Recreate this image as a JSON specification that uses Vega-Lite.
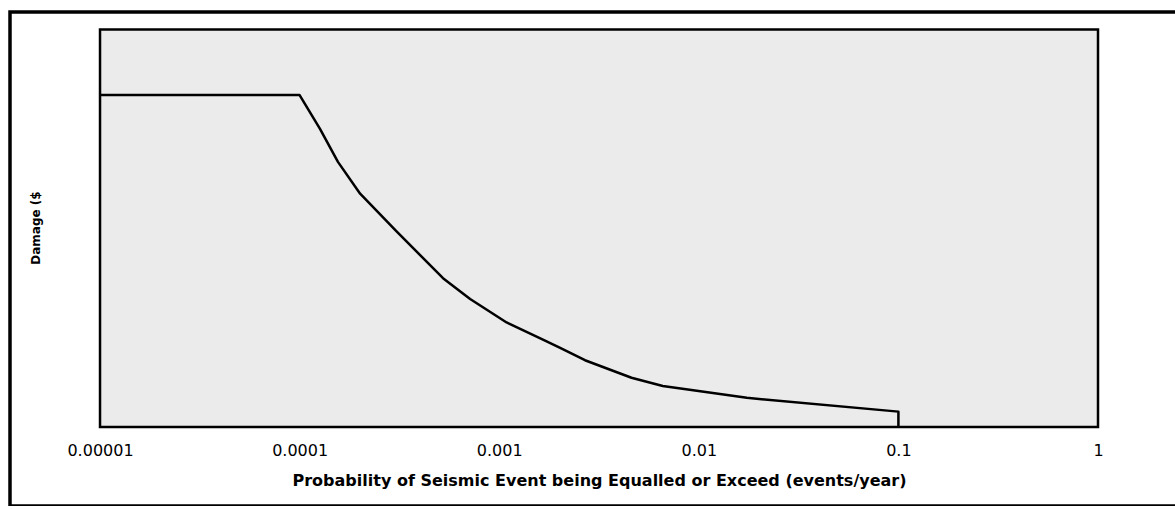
{
  "$schema": "https://vega.github.io/schema/vega-lite/v6.json",
  "autosize": "none",
  "padding": {"left": 10, "top": 12, "right": 0, "bottom": 0},
  "width": 1200,
  "height": 494,
  "background": "white",
  "config": {
    "view": {"stroke": "black", "strokeWidth": 3.5, "fill": "white"},
    "axis": {"grid": false, "domain": false, "ticks": false, "tickSize": 0}
  },
  "datasets": {
    "box": [{"x0": 0.00001, "x1": 1, "y0": 0, "y1": 1}],
    "curve": [
      {"i": 0, "p": 0.00001, "d": 0.835},
      {"i": 1, "p": 0.0001, "d": 0.835},
      {"i": 2, "p": 0.0001265, "d": 0.750},
      {"i": 3, "p": 0.0001556, "d": 0.667},
      {"i": 4, "p": 0.000201, "d": 0.587},
      {"i": 5, "p": 0.000306, "d": 0.492},
      {"i": 6, "p": 0.000523, "d": 0.3745},
      {"i": 7, "p": 0.000715, "d": 0.322},
      {"i": 8, "p": 0.001089, "d": 0.263},
      {"i": 9, "p": 0.001656, "d": 0.220},
      {"i": 10, "p": 0.00202, "d": 0.199},
      {"i": 11, "p": 0.00269, "d": 0.168},
      {"i": 12, "p": 0.0046, "d": 0.124},
      {"i": 13, "p": 0.0066, "d": 0.103},
      {"i": 14, "p": 0.0174, "d": 0.0734},
      {"i": 15, "p": 0.1, "d": 0.0387},
      {"i": 16, "p": 0.1, "d": 0}
    ]
  },
  "layer": [
    {
      "data": {"name": "box"},
      "mark": {"type": "rect", "fill": "#ebebeb", "stroke": "black", "strokeWidth": 2.5},
      "encoding": {
        "x": {
          "field": "x0", "type": "quantitative",
          "scale": {"type": "log", "domain": [0.00000354, 3.64], "nice": false, "zero": false},
          "axis": {
            "orient": "bottom",
            "offset": -79,
            "values": [0.00001, 0.0001, 0.001, 0.01, 0.1, 1],
            "labelExpr": "'' + datum.value",
            "labelFont": "DejaVu Sans",
            "labelFontSize": 16,
            "labelColor": "black",
            "labelPadding": 28,
            "labelBaseline": "alphabetic",
            "labelAlign": "center",
            "labelFlush": false,
            "labelOverlap": false,
            "title": "Probability of Seismic Event being Equalled or Exceed (events/year)",
            "titleFont": "DejaVu Sans",
            "titleFontSize": 16,
            "titleFontWeight": "bold",
            "titleColor": "black",
            "titleX": 589,
            "titleY": 58,
            "titleAlign": "center",
            "titleBaseline": "alphabetic"
          }
        },
        "x2": {"field": "x1"},
        "y": {
          "field": "y0", "type": "quantitative",
          "scale": {"domain": [-0.1987, 1.044], "nice": false, "zero": false},
          "axis": {
            "orient": "left",
            "offset": -90,
            "labels": false,
            "title": "Damage ($",
            "titleFont": "DejaVu Sans",
            "titleFontSize": 12,
            "titleFontWeight": "bold",
            "titleColor": "black",
            "titleAngle": 270,
            "titleX": -65,
            "titleY": 215.5,
            "titleAlign": "center",
            "titleBaseline": "middle"
          }
        },
        "y2": {"field": "y1"}
      }
    },
    {
      "data": {"name": "curve"},
      "mark": {"type": "line", "color": "black", "strokeWidth": 2.5, "strokeJoin": "round"},
      "encoding": {
        "x": {"field": "p", "type": "quantitative"},
        "y": {"field": "d", "type": "quantitative"},
        "order": {"field": "i", "type": "quantitative"}
      }
    }
  ]
}
